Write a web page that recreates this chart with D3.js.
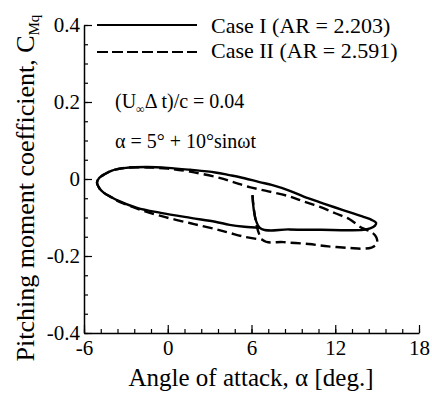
<!DOCTYPE html>
<html>
<head>
<meta charset="utf-8">
<script src="https://cdn.jsdelivr.net/npm/d3@7"></script>
<style>
  body { margin: 0; background: #fff; }
</style>
</head>
<body>
<svg id="chart" width="432" height="398"></svg>
<script>
// axis ticks
let xTicks = [-6, 0, 6, 12, 18];
let xTickLabels = ["-6", "0", "6", "12", "18"];
let yTicks = [-0.4, -0.2, 0, 0.2, 0.4];
let yTickLabels = ["-0.4", "-0.2", "0", "0.2", "0.4"];

// Case I (AR = 2.203), path order
let alphaCase1 = [6.07, 6.6, 8.7, 11, 13, 14, 14.5, 14.85, 14.93, 14.6, 14.07, 13, 12, 10.86, 9.7, 8.7, 7.5, 6.57, 5.5, 4.43, 3.4, 1.6, 0, -1.5, -3, -4, -4.5, -4.9, -5.07, -4.9, -4.57, -4, -3.64, -2.2, -0.5, 1.64, 3.4, 4.43, 5.5, 6.6];
let cmCase1 = [-0.042, -0.127, -0.131, -0.132, -0.133, -0.132, -0.128, -0.121, -0.114, -0.106, -0.099, -0.086, -0.074, -0.060, -0.045, -0.030, -0.016, -0.008, 0.002, 0.010, 0.017, 0.024, 0.029, 0.031, 0.029, 0.022, 0.013, 0.003, -0.010, -0.024, -0.036, -0.048, -0.055, -0.075, -0.088, -0.101, -0.111, -0.119, -0.124, -0.127];

// Case II (AR = 2.591)
let alphaCase2 = [6.07, 6.79, 8.3, 10.1, 11.5, 13, 14, 14.6, 14.95, 15.0, 14.85, 14.5, 13.9, 13, 12, 10.86, 9.7, 8.7, 7.2, 5.86, 4.7, 3.7, 1.6, 0, -1.5, -3, -4, -4.5, -4.9, -5.07, -4.9, -4.57, -4, -3.64, -2.2, -0.5, 1.64, 3.4, 4.43, 5.5, 6.79];
let cmCase2 = [-0.042, -0.158, -0.164, -0.169, -0.175, -0.179, -0.181, -0.178, -0.170, -0.158, -0.146, -0.136, -0.127, -0.104, -0.089, -0.072, -0.058, -0.045, -0.032, -0.021, -0.008, 0.003, 0.019, 0.027, 0.030, 0.029, 0.022, 0.013, 0.003, -0.010, -0.024, -0.036, -0.048, -0.056, -0.077, -0.096, -0.115, -0.130, -0.140, -0.150, -0.158];

let legendLabels = ["Case I (AR = 2.203)", "Case II (AR = 2.591)"];

function serif(size) {
    return "font-family:'Liberation Serif';font-size:" + size + "px";
}

let svg = d3.select("#chart");
let x = d3.scaleLinear().domain([-6, 18]).range([84, 419]);
let y = d3.scaleLinear().domain([-0.4, 0.4]).range([333, 25]);

// minor ticks (inward, no labels)
let xMinor = d3.range(-6, 18.001, 1.2);
let yMinor = d3.range(-0.4, 0.4001, 0.05);

svg.append("g")
    .attr("transform", "translate(0,333)")
    .call(d3.axisBottom(x).tickValues(xMinor).tickSize(-4).tickSizeOuter(0).tickFormat(""))
    .call(g => g.select(".domain").remove());
svg.append("g")
    .attr("transform", "translate(84,0)")
    .call(d3.axisLeft(y).tickValues(yMinor).tickSize(-4).tickSizeOuter(0).tickFormat(""))
    .call(g => g.select(".domain").remove());

// major axes
let xAxis = svg.append("g")
    .attr("transform", "translate(0,333)")
    .call(d3.axisBottom(x).tickValues(xTicks).tickSize(-8).tickSizeOuter(0).tickPadding(4)
        .tickFormat((d, i) => xTickLabels[i]));
let yAxis = svg.append("g")
    .attr("transform", "translate(84,0)")
    .call(d3.axisLeft(y).tickValues(yTicks).tickSize(-8).tickSizeOuter(0).tickPadding(4)
        .tickFormat((d, i) => yTickLabels[i]));

svg.selectAll(".tick line").attr("stroke", "#000").attr("stroke-width", 1.2);
svg.selectAll(".domain").attr("stroke", "#000").attr("stroke-width", 1.5);
xAxis.selectAll(".tick text").attr("style", serif(21)).attr("dy", "0.85em");
yAxis.selectAll(".tick text").attr("style", serif(21)).attr("dy", "0.3em");

// loops
let line = d3.line().x(d => x(d[0])).y(d => y(d[1])).curve(d3.curveCatmullRom);
let case1 = alphaCase1.map((a, i) => [a, cmCase1[i]]);
let case2 = alphaCase2.map((a, i) => [a, cmCase2[i]]);

svg.append("path").datum(case1)
    .attr("d", line).attr("fill", "none").attr("stroke", "#000").attr("stroke-width", 2.4);
svg.append("path").datum(case2)
    .attr("d", line).attr("fill", "none").attr("stroke", "#000").attr("stroke-width", 2.4)
    .attr("stroke-dasharray", "10,5");

// legend
let legend = svg.append("g");
legend.append("line").attr("x1", 97).attr("x2", 197).attr("y1", 25).attr("y2", 25)
    .attr("stroke", "#000").attr("stroke-width", 2.2);
legend.append("line").attr("x1", 97).attr("x2", 197).attr("y1", 52).attr("y2", 52)
    .attr("stroke", "#000").attr("stroke-width", 2.2).attr("stroke-dasharray", "11,4");
legend.selectAll("text.leg").data(legendLabels).enter().append("text")
    .attr("class", "leg")
    .attr("x", 211).attr("y", (d, i) => 33 + i * 25)
    .attr("style", serif(22))
    .text(d => d);

// annotations
let ann1 = svg.append("text").attr("x", 115).attr("y", 108).attr("style", serif(20));
ann1.append("tspan").text("(U");
ann1.append("tspan").text("\u221E").attr("style", "font-size:12px").attr("dy", 5);
ann1.append("tspan").text("\u0394 t)/c = 0.04").attr("dy", -5);

svg.append("text").attr("x", 115).attr("y", 148).attr("style", serif(20))
    .text("\u03B1 = 5\u00B0 + 10\u00B0sin\u03C9t");

// axis titles
svg.append("text").attr("x", 251).attr("y", 386).attr("text-anchor", "middle")
    .attr("style", serif(25))
    .text("Angle of attack, \u03B1 [deg.]");

let yTitle = svg.append("text")
    .attr("transform", "translate(34,188) rotate(-90)")
    .attr("text-anchor", "middle")
    .attr("style", serif(26));
yTitle.append("tspan").text("Pitching moment coefficient, C");
yTitle.append("tspan").text("Mq").attr("style", "font-size:15px").attr("dy", 5);
</script>
</body>
</html>
